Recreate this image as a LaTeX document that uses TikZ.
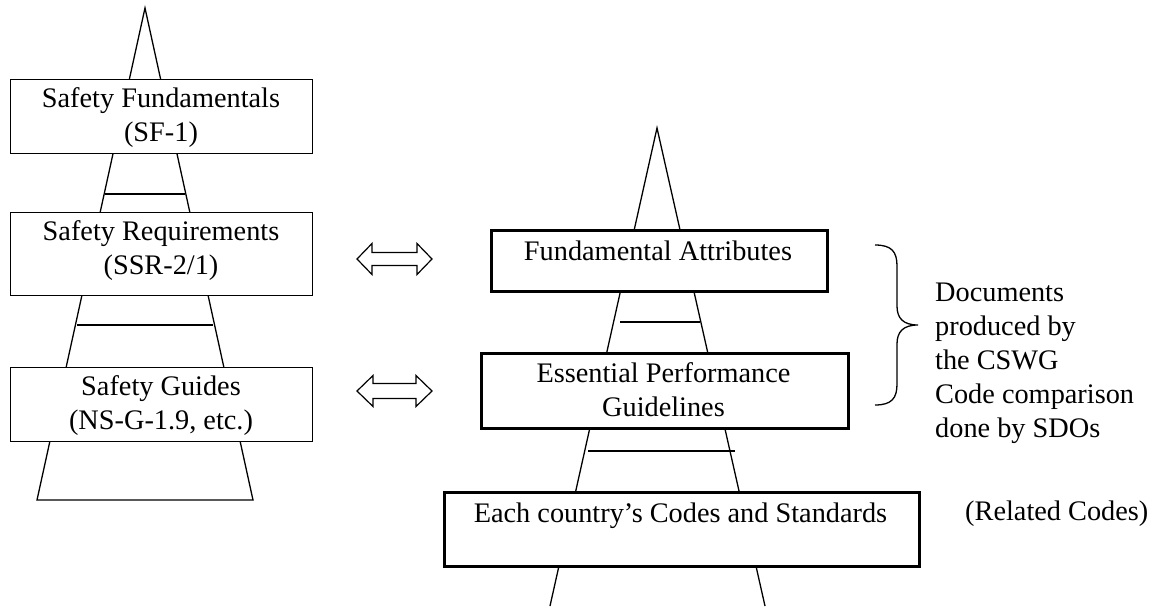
\documentclass[tikz,border=0pt]{standalone}
\usepackage{fontspec}
\setmainfont{Liberation Serif}
\begin{document}
\begin{tikzpicture}[x=1pt,y=-1pt,
  every node/.style={font=\fontsize{28.3}{34}\selectfont, inner sep=0pt},
  thinbox/.style={draw, line width=1.3pt, fill=white, anchor=north west},
  thickbox/.style={draw, line width=3pt, fill=white, anchor=north west},
  label/.style={anchor=north, align=center},
  pyr/.style={line width=1.3pt, line join=miter},
  rung/.style={line width=1.6pt},
  dblarrow/.style={draw, line width=1.2pt, line join=miter}
]
\useasboundingbox (0,0) rectangle (1163,606);

% ---------- left pyramid ----------
\coordinate (lapex) at (145,8);
\coordinate (lbl) at (37,500);
\coordinate (lbr) at (253,500);
\draw[pyr] (lbl) -- (lapex) -- (lbr) -- cycle;
\coordinate (lr1a) at (105,194); \coordinate (lr1b) at (185,194);
\draw[rung] (lr1a) -- (lr1b);
\coordinate (lr2a) at (77,325); \coordinate (lr2b) at (213,325);
\draw[rung, line width=2.6pt] (lr2a) -- (lr2b);

\node[thinbox, minimum width=302pt, minimum height=74pt] (sf) at (10,79) {};
\node[label] (sft) at (161,83.2) {\strut Safety Fundamentals\\(SF-1)};
\node[thinbox, minimum width=302pt, minimum height=83pt] (ssr) at (10,212) {};
\node[label] (ssrt) at (161,216.2) {\strut Safety Requirements\\(SSR-2/1)};
\node[thinbox, minimum width=302pt, minimum height=74pt] (sg) at (10,367) {};
\node[label] (sgt) at (161,371.2) {\strut Safety Guides\\(NS-G-1.9, etc.)};

% ---------- right pyramid ----------
\coordinate (rapex) at (657,128);
\coordinate (rbl) at (550,606);
\coordinate (rbr) at (765,606);
\draw[pyr] (rbl) -- (rapex) -- (rbr);
\coordinate (rr1a) at (620,322); \coordinate (rr1b) at (700,322);
\draw[rung] (rr1a) -- (rr1b);
\coordinate (rr2a) at (588,451); \coordinate (rr2b) at (735,451);
\draw[rung] (rr2a) -- (rr2b);

\node[thickbox, minimum width=336pt, minimum height=61pt] (fa) at (490,229) {};
\node[label] (fat) at (658,236.2) {\strut Fundamental Attributes};
\node[thickbox, minimum width=367pt, minimum height=75pt] (epg) at (480,352) {};
\node[label] (epgt) at (663.5,358.2) {\strut Essential Performance\\Guidelines};
\node[thickbox, minimum width=475pt, minimum height=74pt] (ecs) at (443,491) {};
\node[label] (ecst) at (680.5,498.2) {\strut Each country’s Codes and Standards};

% ---------- double arrows ----------
\draw[dblarrow] (357,259) -- (372,243.5) -- (372,252.5) -- (417,252.5) -- (417,243.5)
  -- (432,259) -- (417,274.5) -- (417,265.5) -- (372,265.5) -- (372,274.5) -- cycle;
\draw[dblarrow] (357,391) -- (373,375.5) -- (373,383.5) -- (416,383.5) -- (416,375.5)
  -- (432,391) -- (416,406.5) -- (416,398.5) -- (373,398.5) -- (373,406.5) -- cycle;

% ---------- brace ----------
\coordinate (btop) at (875,245);
\coordinate (btip) at (918,325);
\coordinate (bbot) at (875,405);
\draw[line width=1.3pt] (btop) .. controls (892,245) and (897,252) .. (897,266)
  -- (897,306) .. controls (897,318) and (903,325) .. (btip)
  .. controls (903,325) and (897,332) .. (897,344)
  -- (897,384) .. controls (897,398) and (892,405) .. (bbot);

% ---------- side texts ----------
\node[anchor=north west, align=left] (docs) at (935,277.2)
  {\strut Documents\\produced by\\the CSWG\\Code comparison\\done by SDOs};
\node[anchor=north west] (rel) at (965,496.2) {\strut (Related Codes)};
\end{tikzpicture}
\end{document}
